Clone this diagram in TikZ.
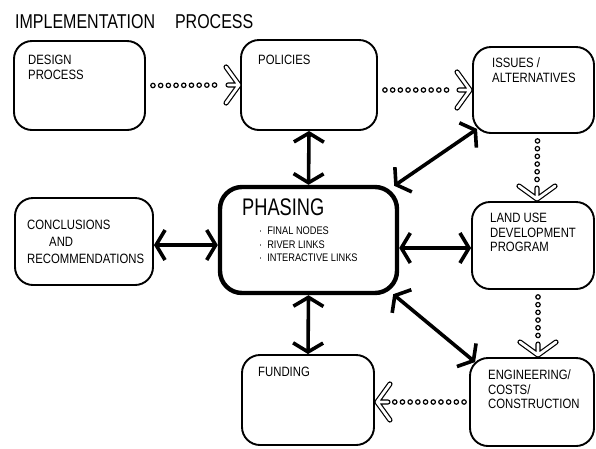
\documentclass[tikz,border=0pt]{standalone}
\usepackage{fontspec}
\setmainfont{Liberation Sans}[FakeStretch=0.84]
\newfontfamily\titlefont{Liberation Sans}[FakeStretch=0.8]
\newfontfamily\phasefont{Liberation Sans}[FakeStretch=0.76]
\usetikzlibrary{arrows.meta,calc,decorations.markings}

\begin{document}
\begin{tikzpicture}[x=1pt,y=-1pt,
  box/.style={draw, line width=1.9pt, rounded corners=18pt, inner sep=0pt},
  mainbox/.style={box, line width=4.4pt, rounded corners=22pt},
  lbl/.style={anchor=north west, inner sep=0pt, align=left, font=\fontsize{13.5}{14.5}\selectfont},
  link/.style={line width=3.6pt, {Straight Barb[length=9pt,width=30pt]}-{Straight Barb[length=9pt,width=30pt]}},
  dotline/.style={decoration={markings, mark=between positions 0 and 1 step 7.7pt with {\draw[line width=1.2pt, fill=white] (0,0) circle (2.2pt);}}, decorate},
  hollowtip/.pic={\draw[line width=1.2pt, double=white, double distance=2.8pt, line join=round, line cap=round] (-11,0) -- (0,0) (-13,-18) -- (0,0) -- (-13,18);}
]
\useasboundingbox (0,0) rectangle (596,448);

% title
\node[anchor=north west, inner sep=0pt, font=\titlefont\fontsize{20}{20}\selectfont] (title) at (15,14) {IMPLEMENTATION\hspace{20pt}PROCESS};

% boxes
\node[box, minimum width=131pt, minimum height=89pt] (design) at (79.5,85.5) {};
\node[box, minimum width=136pt, minimum height=90pt] (policies) at (309,85) {};
\node[box, minimum width=121pt, minimum height=86pt] (issues) at (533.5,90) {};
\node[box, minimum width=138pt, minimum height=87pt] (conclusions) at (84,241.5) {};
\node[mainbox, minimum width=177pt, minimum height=106pt] (phasing) at (308.5,240) {};
\node[box, minimum width=122pt, minimum height=87pt] (landuse) at (533,245.5) {};
\node[box, minimum width=132pt, minimum height=90pt] (funding) at (308,400) {};
\node[box, minimum width=124pt, minimum height=88pt] (engineering) at (532,402) {};

% box texts
\node[lbl] (designtxt) at (28,55) {DESIGN\\PROCESS};
\node[lbl] (policiestxt) at (258,55) {POLICIES};
\node[lbl] (issuestxt) at (492,58) {ISSUES /\\ALTERNATIVES};
\node[lbl, font=\fontsize{13.5}{17}\selectfont] (conctxt) at (27,220) {CONCLUSIONS\\\hspace{22pt}AND\\RECOMMENDATIONS};
\node[anchor=north west, inner sep=0pt, font=\phasefont\fontsize{24}{24}\selectfont] (phasetxt) at (242,199) {PHASING};
\node[lbl, font=\fontsize{11}{13.5}\selectfont] (phaselist) at (259,227) {·\hspace{5pt}FINAL NODES\\·\hspace{5pt}RIVER LINKS\\·\hspace{5pt}INTERACTIVE LINKS};
\node[lbl] (landtxt) at (490,213) {LAND USE\\DEVELOPMENT\\PROGRAM};
\node[lbl] (fundtxt) at (258,367) {FUNDING};
\node[lbl] (engtxt) at (488,370) {ENGINEERING/\\COSTS/\\CONSTRUCTION};

% two-way links to the phasing box
\draw[link] (policies.south) -- (phasing.north);
\draw[link] (phasing.south) -- (funding.north);
\draw[link] (conclusions.east |- 0,245) -- (phasing.west |- 0,245);
\draw[link] (phasing.east |- 0,248) -- (landuse.west |- 0,248);
\draw[link] ($(phasing.north east)+(-5,1)$) -- ($(issues.south west)+(5,-5)$);
\draw[link] ($(phasing.south east)+(-6,-1)$) -- ($(engineering.north west)+(6,5)$);

% one-way dotted sequence
\path[dotline] ($(design.east)+(7,0)$) -- ($(policies.west)+(-19,0)$);
\pic at ($(policies.west)+(-1,0)$) {hollowtip};

\path[dotline] ($(policies.east |- issues.west)+(7,0)$) -- ($(issues.west)+(-19,0)$);
\pic at ($(issues.west)+(-2,0)$) {hollowtip};

\path[dotline] ($(issues.south)+(4,7)$) -- ($(landuse.north)+(4,-19)$);
\pic[rotate=-90] at ($(landuse.north)+(4,-2)$) {hollowtip};

\path[dotline] ($(landuse.south)+(5,7)$) -- ($(engineering.north)+(6,-19)$);
\pic[rotate=-90] at ($(engineering.north)+(6,-2)$) {hollowtip};

\path[dotline] ($(engineering.west)+(-5,0)$) -- ($(funding.east |- engineering.west)+(19,0)$);
\pic[rotate=180] at ($(funding.east |- engineering.west)+(2,0)$) {hollowtip};
\end{tikzpicture}
\end{document}
